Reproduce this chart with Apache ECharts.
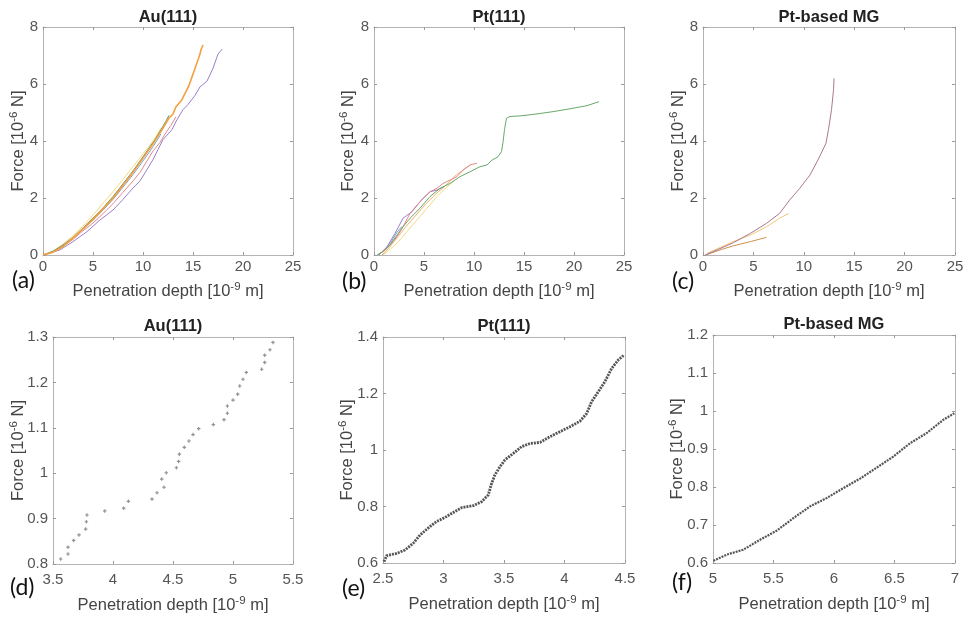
<!DOCTYPE html>
<html>
<head>
<meta charset="utf-8">
<script src="https://cdn.jsdelivr.net/npm/echarts@6/dist/echarts.min.js"></script>
<style>html,body{margin:0;padding:0;background:#fff}#c{width:969px;height:618px}</style>
</head>
<body>
<div id="c"></div>
<script>
// ---------- Data ----------
// (a) Au(111) load curves  [depth 1e-9 m, force 1e-6 N]
const auOrange = [[0,0],[1,0.1],[2,0.3],[3,0.6],[4,0.92],[5,1.25],[6,1.62],[7,2.0],[8,2.45],[9,2.9],[10,3.4],[11,3.9],[12,4.45],[12.6,4.8],[13.0,4.95],[13.3,5.2],[13.5,5.15],[13.9,5.45],[14.1,5.6],[14.4,5.8],[14.6,5.95],[14.9,6.25],[15.1,6.45],[15.3,6.65],[15.5,6.85],[15.7,7.05],[15.8,7.2],[16.0,7.37]];
const auPurple = [[0,0],[0.4,0.04],[1.7,0.18],[3.0,0.47],[4.4,0.82],[5.7,1.23],[7.0,1.58],[8.0,1.95],[9.0,2.35],[9.7,2.6],[10.4,3.0],[11.0,3.35],[11.5,3.7],[12.0,4.05],[12.9,4.4],[13.4,4.75],[14.0,5.1],[14.5,5.28],[15.2,5.6],[15.7,5.9],[16.4,6.1],[17.0,6.55],[17.5,7.05],[17.9,7.22]];
const auRed = [[0,0],[1,0.1],[2,0.3],[3,0.55],[4,0.85],[5,1.12],[6,1.45],[7,1.8],[8,2.2],[9,2.6],[9.7,2.9],[10.4,3.3],[11,3.65],[11.7,3.95],[12.3,4.3],[12.8,4.55],[13.3,4.85]];
const auGreen = [[0,0],[1,0.13],[2,0.35],[3,0.62],[4,0.95],[5,1.3],[6,1.65],[7,2.05],[8,2.5],[9,2.95],[10,3.45],[10.6,3.75],[11.2,4.05],[11.8,4.4],[12.3,4.7],[12.6,4.9]];
const auYellow = [[0,0],[1,0.14],[2,0.38],[3,0.68],[4,1.02],[5,1.4],[6,1.82],[7,2.22],[8,2.65],[9,3.1],[10,3.55],[11,4.0],[11.8,4.45]];
const auBlue = [[0,0],[1,0.12],[2,0.33],[3,0.6],[4,0.9],[5,1.22],[6,1.57],[7,1.95],[8,2.38],[9,2.82],[10,3.3],[11,3.8],[11.8,4.25]];

// (b) Pt(111) load curves
const ptGreen = [[0.3,0],[0.9,0.12],[1.6,0.35],[2.3,0.7],[2.9,0.99],[3.6,1.29],[4.6,1.64],[5.6,2.05],[6.6,2.34],[7.6,2.51],[8.6,2.75],[9.6,2.92],[10.6,3.1],[11.3,3.16],[11.8,3.33],[12.4,3.45],[12.75,3.63],[12.9,3.95],[13.05,4.4],[13.25,4.8],[13.6,4.86],[14.6,4.88],[16.3,4.95],[17.9,5.03],[19.6,5.13],[21.3,5.24],[22.5,5.38]];
const ptRed = [[0.6,0.06],[1.3,0.23],[2.3,0.64],[2.9,0.99],[3.6,1.46],[4.3,1.75],[4.9,1.99],[5.6,2.22],[6.3,2.34],[6.9,2.51],[7.6,2.63],[8.3,2.75],[8.9,2.98],[9.6,3.16],[10.3,3.22]];
const ptPurple = [[0.5,0],[1.3,0.29],[2.1,0.76],[2.9,1.29],[3.8,1.52],[4.6,1.87],[5.6,2.22],[6.3,2.28],[7.0,2.4]];
const ptOrange = [[0.8,0],[1.5,0.25],[2.3,0.6],[3.2,1.0],[4.2,1.4],[5.2,1.8],[6.2,2.15],[7.2,2.45],[8.2,2.8],[9.0,3.0],[9.6,3.15]];
const ptYellow = [[0.9,0],[2.3,0.41],[3.3,0.82],[4.3,1.23],[5.3,1.64],[6.3,2.05],[7.0,2.3],[8.0,2.6]];
const ptBlue = [[0.4,0],[1.0,0.15],[1.7,0.45],[2.3,0.8],[2.8,1.0]];

// (c) Pt-based MG load curves
const mgPurple = [[0.2,0],[1.4,0.18],[3.0,0.43],[4.7,0.76],[6.3,1.11],[7.6,1.46],[8.6,1.93],[9.6,2.34],[10.6,2.8],[11.4,3.33],[12.2,3.92],[12.45,4.4],[12.75,5.1],[12.95,5.8],[13.0,6.2]];
const mgYellow = [[0.4,0.06],[3.0,0.47],[4.7,0.7],[6.3,0.99],[7.6,1.29],[8.5,1.46]];
const mgOrange = [[0.3,0],[1.7,0.18],[3.0,0.32],[4.7,0.47],[6.3,0.62]];

// (d) Au(111) zoomed points
const auZoom = [[3.564,0.811],[3.625,0.822],[3.625,0.837],[3.672,0.852],[3.717,0.864],[3.772,0.877],[3.778,0.893],[3.783,0.908],[3.931,0.917],[4.089,0.923],[4.128,0.938],[4.325,0.943],[4.367,0.957],[4.425,0.969],[4.406,0.987],[4.444,1.001],[4.528,1.012],[4.547,1.026],[4.553,1.042],[4.594,1.057],[4.633,1.071],[4.667,1.085],[4.714,1.098],[4.836,1.107],[4.925,1.118],[4.953,1.132],[4.953,1.148],[5.0,1.161],[5.039,1.174],[5.056,1.192],[5.083,1.207],[5.111,1.222],[5.239,1.229],[5.264,1.244],[5.264,1.260],[5.308,1.272],[5.333,1.288]];

// (e) Pt(111) zoomed points
const ptZoom = [[2.508,0.605],[2.53,0.626],[2.613,0.634],[2.682,0.646],[2.75,0.670],[2.806,0.699],[2.888,0.729],[2.943,0.747],[3.012,0.761],[3.081,0.779],[3.15,0.796],[3.246,0.803],[3.315,0.817],[3.37,0.841],[3.398,0.882],[3.425,0.912],[3.467,0.941],[3.508,0.965],[3.577,0.988],[3.646,1.012],[3.715,1.023],[3.798,1.027],[3.88,1.047],[3.963,1.065],[4.045,1.082],[4.128,1.102],[4.183,1.129],[4.224,1.171],[4.279,1.206],[4.334,1.242],[4.39,1.289],[4.445,1.319],[4.492,1.336]];

// (f) Pt-based MG zoomed points
const mgZoom = [[5.003,0.606],[5.113,0.622],[5.25,0.635],[5.388,0.661],[5.526,0.685],[5.664,0.718],[5.802,0.749],[5.94,0.771],[6.077,0.797],[6.215,0.822],[6.353,0.851],[6.49,0.880],[6.628,0.915],[6.766,0.942],[6.904,0.977],[6.994,0.994]];

// axis ranges [min, max, interval]
const xRanges = [[0,25,5],[0,25,5],[0,25,5],[3.5,5.5,0.5],[2.5,4.5,0.5],[5,7,0.5]];
const yRanges = [[0,8,2],[0,8,2],[0,8,2],[0.8,1.3,0.1],[0.6,1.4,0.2],[0.6,1.2,0.1]];
const panelTitles = ['Au(111)','Pt(111)','Pt-based MG','Au(111)','Pt(111)','Pt-based MG'];
const panelLetters = ['(a)','(b)','(c)','(d)','(e)','(f)'];

// ---------- Layout ----------
const grids = [
  {left:43, top:27, width:250, height:228},
  {left:374, top:27, width:250, height:228},
  {left:703, top:27, width:252, height:228},
  {left:53, top:337, width:240, height:227},
  {left:383, top:337, width:242, height:226},
  {left:713, top:335, width:242, height:228}
];
const yNameGap = [15,16,15,25,26,26];
const xNameGap = [26,26,26,31,31,31];
const xLabelMargin = [4,4,4,8,8,8];
const titleY = [17,17,17,326,326,324];
const letterPos = [[12,281],[342,282],[672,282],[10,588],[342,589],[672,583]];

const FONT = 'Liberation Sans, Arial, sans-serif';
const axisCol = '#b4b4b4';
const nameRich = {
  n: {fontSize: 16.5, color: '#444', fontFamily: FONT, lineHeight: 20},
  s: {fontSize: 11.5, color: '#444', fontFamily: FONT, lineHeight: 20, verticalAlign: 'top', padding:[0,0,7,0]}
};

const xAxes = [], yAxes = [], series = [], graphics = [];
grids.forEach((g, i) => {
  const [xmin,xmax,xint] = xRanges[i];
  const [ymin,ymax,yint] = yRanges[i];
  const common = {
    gridIndex: i, type: 'value', splitLine: {show:false},
    axisLine: {show:true, onZero:false, lineStyle:{color:axisCol, width:1}},
    axisTick: {show:true, inside:true, length:3, lineStyle:{color:'#999'}}
  };
  xAxes.push(Object.assign({}, common, {
    position:'bottom', min:xmin, max:xmax, interval:xint,
    axisLabel:{color:'#555', fontSize:15, fontFamily:FONT, margin:xLabelMargin[i]},
    name:'{n|Penetration depth [10}{s|-9}{n| m]}', nameLocation:'middle', nameGap:xNameGap[i],
    nameMoveOverlap:false,
    nameTextStyle:{rich:nameRich}
  }));
  xAxes.push(Object.assign({}, common, {
    position:'top', min:xmin, max:xmax, interval:xint, axisLabel:{show:false}
  }));
  yAxes.push(Object.assign({}, common, {
    position:'left', min:ymin, max:ymax, interval:yint,
    axisLabel:{color:'#555', fontSize:15, fontFamily:FONT, margin:5},
    name:'{n|Force [10}{s|-6}{n| N]}', nameLocation:'middle', nameGap:yNameGap[i], nameRotate:90,
    nameMoveOverlap:false,
    nameTextStyle:{rich:nameRich}
  }));
  yAxes.push(Object.assign({}, common, {
    position:'right', min:ymin, max:ymax, interval:yint, axisLabel:{show:false}
  }));
  graphics.push({type:'text', x: g.left + g.width/2, y: titleY[i],
    style:{text: panelTitles[i], font:'bold 16.5px ' + FONT, fill:'#222', align:'center', verticalAlign:'middle'}});
  graphics.push({type:'text', x: letterPos[i][0], y: letterPos[i][1],
    style:{text: panelLetters[i], font:'23px Lato, "Open Sans", sans-serif', fill:'#111', align:'left', verticalAlign:'middle'}});
});

function lineSeries(idx, data, color, width) {
  return {type:'line', xAxisIndex: idx*2, yAxisIndex: idx*2, data: data, showSymbol:false, symbol:'none',
    lineStyle:{color: color, width: width || 1}, silent:true, animation:false, clip:true};
}
series.push(lineSeries(0, auBlue, '#7f9fc8'));
series.push(lineSeries(0, auYellow, '#eedd80'));
series.push(lineSeries(0, auGreen, '#5f8f60'));
series.push(lineSeries(0, auRed, '#e08a8a'));
series.push(lineSeries(0, auPurple, '#9a7fcc'));
series.push(lineSeries(0, auOrange, '#f4a040', 1.6));

series.push(lineSeries(1, ptBlue, '#7f9fc8'));
series.push(lineSeries(1, ptYellow, '#eedd80'));
series.push(lineSeries(1, ptOrange, '#f2b070'));
series.push(lineSeries(1, ptPurple, '#9a7fcc'));
series.push(lineSeries(1, ptRed, '#e08a8a'));
series.push(lineSeries(1, ptGreen, '#6aa868'));

series.push(lineSeries(2, mgOrange, '#d09050'));
series.push(lineSeries(2, mgYellow, '#f2c87a'));
series.push(lineSeries(2, mgPurple, '#a87890'));

series.push({type:'scatter', xAxisIndex:6, yAxisIndex:6, data:auZoom, symbol:'path://M-1,-3H1V-1H3V1H1V3H-1V1H-3V-1H-1Z', symbolSize:3.5,
  itemStyle:{color:'#777'}, silent:true, animation:false});
series.push({type:'line', xAxisIndex:8, yAxisIndex:8, data:ptZoom, showSymbol:false, symbol:'none',
  lineStyle:{color:'#555', width:2.8, type:[2,1]}, silent:true, animation:false});
series.push({type:'line', xAxisIndex:10, yAxisIndex:10, data:mgZoom, showSymbol:false, symbol:'none',
  lineStyle:{color:'#555', width:2.2, type:[2,1]}, silent:true, animation:false});

const chart = echarts.init(document.getElementById('c'), null, {renderer:'canvas'});
chart.setOption({
  animation:false,
  backgroundColor:'#fff',
  grid: grids,
  xAxis: xAxes,
  yAxis: yAxes,
  series: series,
  graphic: graphics
});
</script>
</body>
</html>
